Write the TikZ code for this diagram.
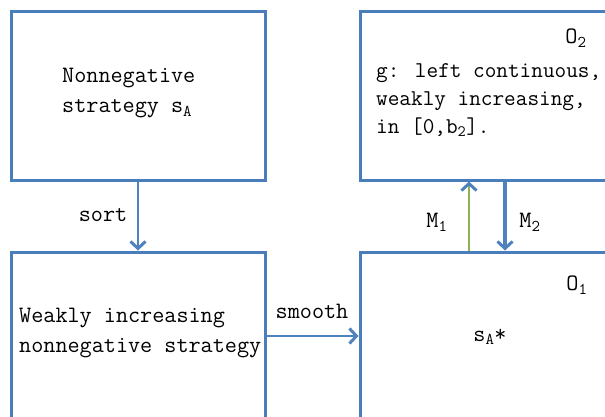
\documentclass[tikz,border=0pt]{standalone}
\usepackage{tikz}
\usetikzlibrary{arrows.meta,positioning,calc}
\usepackage{xcolor}
\definecolor{frame}{HTML}{4A7EBB}
\definecolor{edge}{HTML}{4F81BD}
\definecolor{upline}{HTML}{8DB255}

\begin{document}
\begin{tikzpicture}[x=1pt,y=1pt,
    txt/.style={font=\ttfamily\fontsize{23.5}{30}\selectfont,inner sep=0pt},
    box/.style={draw=frame,line width=3pt,minimum height=168pt,inner sep=0pt},
    link/.style={edge,line width=2.6pt,-{Straight Barb[length=7pt,width=15pt,line width=3pt]}}]
  \clip (0,0) rectangle (605,416);

  % The four boxes
  \node[box,minimum width=254pt] (strat) at (138,320) {};
  \node[box,minimum width=254pt] (sorted) at (138,80) {};
  \node[box,minimum width=290pt] (otwo) at (505,320) {};
  \node[box,minimum width=290pt] (oone) at (505,80) {};

  % Texts inside the boxes
  \node[txt,align=left,anchor=west] (stratlab) at (62,323) {Nonnegative\\strategy s\textsubscript{A}};
  \node[txt,align=left,anchor=west,font=\ttfamily\fontsize{22.6}{28}\selectfont] (glab) at (376,316)
    {g: left continuous,\\weakly increasing,\\in [0,b\textsubscript{2}].};
  \node[txt] (otwolab) at (576,378) {O\textsubscript{2}};
  \node[txt,align=left,anchor=west] (sortedlab) at (19,83) {Weakly increasing\\nonnegative strategy};
  \node[txt] (oonelab) at (577,131) {O\textsubscript{1}};
  \node[txt] (starlab) at (490,79) {s\textsubscript{A}*};

  % Arrows between the boxes
  \draw[link] (strat.south) -- (sorted.north);
  \node[txt] (sortlab) at (103,201) {sort};

  \draw[link] (sorted.east) -- (oone.west);
  \node[txt] (smoothlab) at (312,105) {smooth};

  \draw[link,upline,line width=1.6pt,-{Straight Barb[length=7pt,width=15pt,line width=3pt,color=edge]}]
    ([xshift=-36pt]oone.north) -- ([xshift=-36pt]otwo.south);
  \node[txt] (mone) at (437,194) {M\textsubscript{1}};

  \draw[link,line width=4pt] (otwo.south) -- (oone.north);
  \node[txt] (mtwo) at (530,194) {M\textsubscript{2}};
\end{tikzpicture}
\end{document}
